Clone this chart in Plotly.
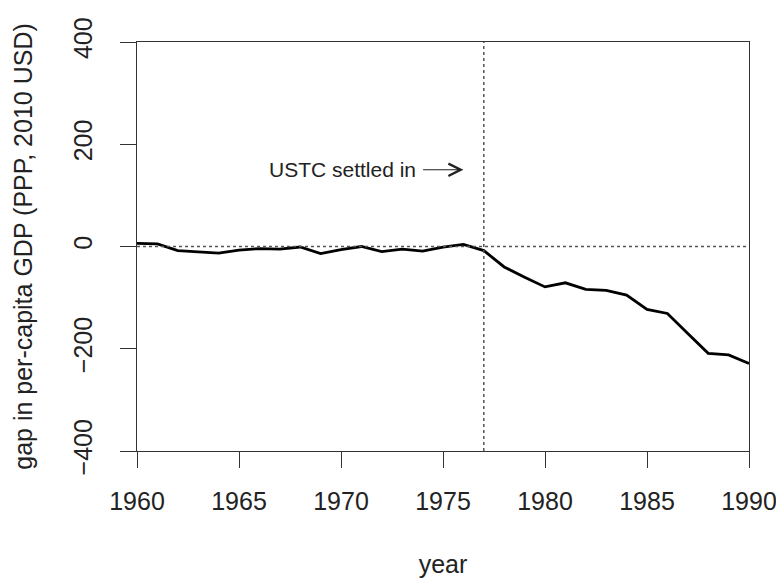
import plotly.graph_objects as go

years = list(range(1960, 1991))
gap = [6, 5, -8, -11, -13, -7, -4, -5, -1, -14, -6, 0, -10, -5, -9, -1, 4,
       -8, -40, -60, -79, -71, -84, -86, -95, -123, -131, -170, -209, -212, -229]

treat_year = 1977
x_ticks = [1960, 1965, 1970, 1975, 1980, 1985, 1990]
y_ticks = [-400, -200, 0, 200, 400]

FONT = "Liberation Sans, Arial, sans-serif"
AXIS_COLOR = "#333333"

fig = go.Figure()

fig.add_trace(
    go.Scatter(
        x=years,
        y=gap,
        mode="lines",
        line=dict(color="black", width=2.8),
        showlegend=False,
    )
)

# reference lines
fig.add_hline(y=0, line=dict(color="#555555", width=1.5, dash="dot"))
fig.add_vline(x=treat_year, line=dict(color="#555555", width=1.5, dash="dot"))

# label + arrow
fig.add_annotation(
    x=1970.05, y=150, text="USTC settled in", showarrow=False,
    font=dict(family=FONT, size=21, color="#222222"),
)
fig.add_annotation(
    x=1976.0, y=150, ax=1973.95, ay=150, axref="x", ayref="y",
    text="", showarrow=True, arrowhead=5, arrowsize=2.2, arrowwidth=1.1,
    arrowcolor="#222222",
)

axis_common = dict(
    showline=True, mirror=True, linecolor=AXIS_COLOR, linewidth=1.3,
    ticks="outside", ticklen=16, tickwidth=1.3, tickcolor=AXIS_COLOR,
    showgrid=False, zeroline=False, automargin=False,
    tickfont=dict(family=FONT, size=25, color="#222222"),
    title_font=dict(family=FONT, size=25, color="#222222"),
)

fig.update_xaxes(
    range=[1960, 1990], tickvals=x_ticks,
    title_text="year", title_standoff=41, ticklabelstandoff=12,
    **axis_common,
)
fig.update_yaxes(
    range=[-400, 400], tickvals=y_ticks, tickangle=-90,
    title_text="gap in per-capita GDP (PPP, 2010 USD)", title_standoff=29,
    ticklabelstandoff=18,
    **axis_common,
)

# page body adds an 8px margin, so the figure is sized to fit inside it
fig.update_layout(
    width=776, height=579,
    margin=dict(l=129, r=35, t=34, b=136),
    plot_bgcolor="white", paper_bgcolor="white",
)

fig.write_html("out.html")
